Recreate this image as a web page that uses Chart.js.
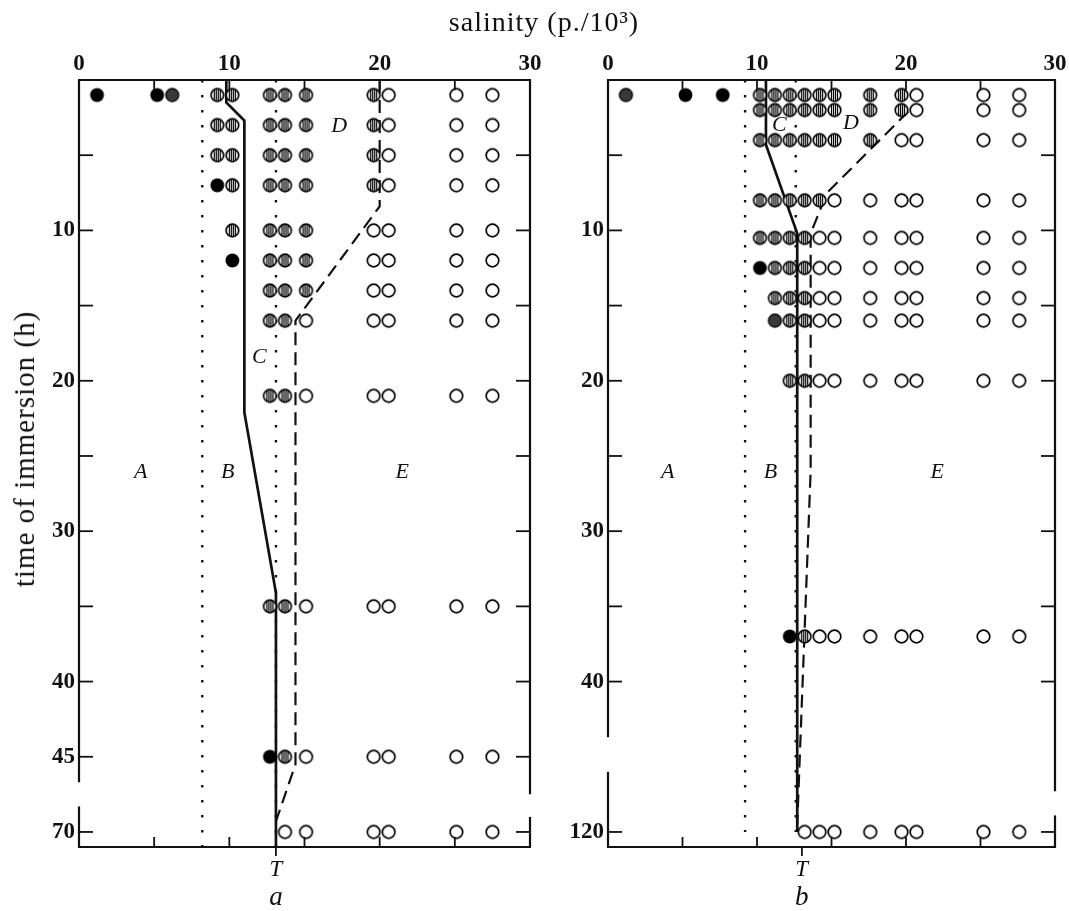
<!DOCTYPE html>
<html><head><meta charset="utf-8">
<script src="https://cdn.jsdelivr.net/npm/chart.js@4.4.1/dist/chart.umd.min.js"></script>
<style>
html,body{margin:0;padding:0;background:#fff;}
#wrap{position:relative;width:1069px;height:911px;overflow:hidden;background:#fff;}
canvas{position:absolute;top:0;}
#cA{left:0;} #cB{left:545px;}
#title{position:absolute;left:394px;width:300px;top:7px;text-align:center;font:28px 'Liberation Serif',serif;letter-spacing:1px;line-height:30px;color:#111;}
#ytitle{position:absolute;left:24px;top:449px;transform:translate(-50%,-50%) rotate(-90deg);white-space:nowrap;font:29px 'Liberation Serif',serif;letter-spacing:1px;line-height:32px;color:#111;}
</style></head><body><div id="wrap">
<canvas id="cA" width="545" height="911"></canvas>
<canvas id="cB" width="524" height="911"></canvas>
<div id="title">salinity (p./10³)</div>
<div id="ytitle">time of immersion (h)</div>
</div>
<script>
// ---------- DATA (panel a) ----------
// salinity columns (p./10^3) at which samples were tested
const salinityA = [1.2, 5.2, 6.2, 9.2, 10.2, 12.7, 13.7, 15.1, 19.6, 20.6, 25.1, 27.5];
// immersion rows, in axis units (axis breaks after 45: position 50 = 70 h)
const rowsA = [1, 3, 5, 7, 10, 12, 14, 16, 21, 35, 45, 50];
// F = black, G = grey, H = hatched, O = open, . = none
const codesA = [
  "FFGHHHHHHOOO",
  "...HHHHHHOOO",
  "...HHHHHHOOO",
  "...FHHHHHOOO",
  "....HHHHOOOO",
  "....FHHHOOOO",
  ".....HHHOOOO",
  ".....HHOOOOO",
  ".....HHOOOOO",
  ".....HHOOOOO",
  ".....FHOOOOO",
  "......OOOOOO"
];
const yTickValuesA = [10, 20, 30, 40, 45, 50];
const yTickLabelsA = ["10", "20", "30", "40", "45", "70"];
const yTickMarksA = [5, 10, 15, 20, 25, 30, 35, 40, 45, 50];
const curveC_A_x = [9.8, 9.8, 11.0, 11.0, 13.1, 13.1];
const curveC_A_y = [0, 1.5, 2.7, 22.1, 34.1, 51];
const curveD_A_x = [20.0, 20.0, 14.4, 14.4, 13.1];
const curveD_A_y = [0, 8.4, 16, 45.5, 49.3];
const dottedA = [8.2, 13.1];
const T_A = 13.1;

// ---------- DATA (panel b) ----------
const salinityB = [1.2, 5.2, 7.7, 10.2, 11.2, 12.2, 13.2, 14.2, 15.2, 17.6, 19.7, 20.7, 25.2, 27.6];
// position 50 = 120 h
const rowsB = [1, 2, 4, 8, 10.5, 12.5, 14.5, 16, 20, 37, 50];
const codesB = [
  "GFFHHHHHHHHOOO",
  "...HHHHHHHHOOO",
  "...HHHHHHHOOOO",
  "...HHHHHOOOOOO",
  "...HHHHOOOOOOO",
  "...FHHHOOOOOOO",
  "....HHHOOOOOOO",
  "....GHHOOOOOOO",
  ".....HHOOOOOOO",
  ".....FHOOOOOOO",
  "......OOOOOOOO"
];
const yTickValuesB = [10, 20, 30, 40, 50];
const yTickLabelsB = ["10", "20", "30", "40", "120"];
const yTickMarksB = [5, 10, 15, 20, 25, 30, 35, 40, 50];
const curveC_B_x = [10.6, 10.6, 12.7, 12.7];
const curveC_B_y = [0, 4.3, 10.2, 50];
const curveD_B_x = [20.15, 14.7, 13.6, 13.6, 12.7];
const curveD_B_y = [2.1, 7.5, 10.2, 26, 49.5];
const dottedB = [9.2, 12.6];
const T_B = 13.0;

const xTickLabels = ["0", "10", "20", "30"];

// ---------- markers ----------
function marker(kind) {
  const s = 17, c = 8.5;
  const cv = document.createElement('canvas'); cv.width = s; cv.height = s;
  const g = cv.getContext('2d');
  if (kind === 'F') {
    g.beginPath(); g.arc(c, c, 6.9, 0, 2 * Math.PI); g.fillStyle = '#000'; g.fill();
  } else if (kind === 'G') {
    g.beginPath(); g.arc(c, c, 6.5, 0, 2 * Math.PI); g.fillStyle = '#383838'; g.fill();
    g.lineWidth = 1.3; g.strokeStyle = '#000'; g.stroke();
  } else {
    g.beginPath(); g.arc(c, c, 6.3, 0, 2 * Math.PI); g.fillStyle = '#fff'; g.fill();
    if (kind === 'H') {
      g.save(); g.clip(); g.strokeStyle = '#000'; g.lineWidth = 1.2;
      [-3, -1, 1, 3].forEach(dx => { g.beginPath(); g.moveTo(c + dx, 0); g.lineTo(c + dx, s); g.stroke(); });
      g.restore();
    }
    g.beginPath(); g.arc(c, c, 6.3, 0, 2 * Math.PI);
    g.lineWidth = 1.7; g.strokeStyle = '#000'; g.stroke();
  }
  return cv;
}
const markerImg = { F: marker('F'), G: marker('G'), H: marker('H'), O: marker('O') };

function markerDatasets(sal, rows, codes) {
  const out = [];
  ['O', 'H', 'G', 'F'].forEach(k => {
    const pts = [];
    codes.forEach((row, i) => {
      for (let j = 0; j < row.length; j++) if (row[j] === k) pts.push({ x: sal[j], y: rows[i] });
    });
    out.push({ data: pts, pointStyle: markerImg[k], pointRadius: 7, showLine: false, order: 1 });
  });
  return out;
}
function lineDs(xs, ys, style) {
  const base = { data: xs.map((x, i) => ({ x: x, y: ys[i] })), showLine: true, pointRadius: 0,
    borderColor: '#111', fill: false, tension: 0, order: 2, borderCapStyle: 'butt', borderJoinStyle: 'miter' };
  if (style === 'solid') { base.borderWidth = 2.7; }
  if (style === 'dash') { base.borderWidth = 2.2; base.borderDash = [13, 7]; }
  if (style === 'dot') { base.borderWidth = 2.4; base.borderDash = [2.4, 12.6]; }
  return base;
}

// ---------- frame / ticks / letters plugin ----------
const framePlugin = {
  id: 'frame',
  afterDatasetsDraw(chart, args, o) {
    const { ctx, scales } = chart;
    ctx.save();
    ctx.fillStyle = '#111'; ctx.textAlign = 'center'; ctx.textBaseline = 'middle';
    ctx.font = 'italic 22px "Liberation Serif", serif';
    o.letters.forEach(l => ctx.fillText(l.t, scales.x.getPixelForValue(l.x), scales.y.getPixelForValue(l.y)));
    ctx.restore();
  },
  afterDraw(chart, args, o) {
    const { ctx, chartArea: a, scales } = chart;
    const xS = scales.x, yS = scales.y;
    ctx.save();
    ctx.strokeStyle = '#111'; ctx.lineWidth = 2.2;
    const seg = (x1, y1, x2, y2) => { ctx.beginPath(); ctx.moveTo(x1, y1); ctx.lineTo(x2, y2); ctx.stroke(); };
    seg(a.left - 1, a.top, a.right + 1, a.top);
    seg(a.left - 1, a.bottom, a.right + 1, a.bottom);
    const lg = o.leftGap.map(v => yS.getPixelForValue(v));
    const rg = o.rightGap.map(v => yS.getPixelForValue(v));
    seg(a.left, a.top, a.left, lg[0]); seg(a.left, lg[1], a.left, a.bottom);
    seg(a.right, a.top, a.right, rg[0]); seg(a.right, rg[1], a.right, a.bottom);
    ctx.lineWidth = 1.8;
    xS.ticks.forEach(t => {
      if (t.value <= xS.min || t.value >= xS.max) return;
      const px = xS.getPixelForValue(t.value);
      seg(px, a.top, px, a.top + 10); seg(px, a.bottom, px, a.bottom - 10);
    });
    o.yMarks.forEach(v => {
      const py = yS.getPixelForValue(v);
      seg(a.left, py, a.left + 14, py); seg(a.right, py, a.right - 14, py);
    });
    ctx.fillStyle = '#111'; ctx.textAlign = 'center'; ctx.textBaseline = 'alphabetic';
    ctx.font = 'italic 27px "Liberation Serif", serif';
    ctx.fillText(o.panel, xS.getPixelForValue(o.T), 905);
    ctx.restore();
  }
};

function makeChart(id, p) {
  const datasets = [
    ...markerDatasets(p.sal, p.rows, p.codes),
    lineDs(p.cx, p.cy, 'solid'),
    lineDs(p.dx, p.dy, 'dash'),
    ...p.dotted.map(v => lineDs([v, v], [0, p.dotEnd], 'dot'))
  ];
  const tickFont = { family: '"Liberation Serif", serif', size: 23, weight: 'bold' };
  return new Chart(document.getElementById(id), {
    type: 'scatter',
    data: { datasets },
    options: {
      responsive: false, animation: false, events: [],
      layout: { padding: 0 },
      plugins: {
        legend: { display: false }, tooltip: { enabled: false },
        frame: { leftGap: p.leftGap, rightGap: p.rightGap, yMarks: p.yMarks, letters: p.letters, panel: p.panel, T: p.T }
      },
      scales: {
        x: {
          type: 'linear', position: 'top', min: 0, max: 30,
          grid: { display: false, drawTicks: false }, border: { display: false },
          ticks: { stepSize: 5, autoSkip: false, maxRotation: 0, padding: 2, color: '#111', font: tickFont,
            callback: v => (v % 10 === 0 ? xTickLabels[v / 10] : '') },
          afterFit: s => { s.height = 80; }
        },
        x2: {
          type: 'linear', position: 'bottom', min: 0, max: 30,
          grid: { display: true, drawOnChartArea: false, drawTicks: true, tickLength: 9, color: '#111', lineWidth: 1.8 },
          border: { display: false },
          afterBuildTicks: s => { s.ticks = [{ value: p.T }]; },
          ticks: { autoSkip: false, maxRotation: 0, padding: 0, color: '#111',
            font: { family: '"Liberation Serif", serif', size: 23, style: 'italic' }, callback: () => 'T' },
          afterFit: s => { s.height = 64; }
        },
        y: {
          type: 'linear', position: 'left', min: 0, max: 51, reverse: true,
          grid: { display: false, drawTicks: false }, border: { display: false },
          afterBuildTicks: s => { s.ticks = p.yVals.map(v => ({ value: v })); },
          ticks: { autoSkip: false, padding: 4, color: '#111', font: tickFont,
            callback: v => { const i = p.yVals.indexOf(v); return i >= 0 ? p.yLabels[i] : ''; } },
          afterFit: s => { s.width = p.leftW; }
        },
        y2: {
          type: 'linear', position: 'right', min: 0, max: 51, reverse: true,
          grid: { display: false, drawTicks: false }, border: { display: false },
          ticks: { display: false },
          afterFit: s => { s.width = p.rightW; }
        }
      }
    },
    plugins: [framePlugin]
  });
}

makeChart('cA', {
  sal: salinityA, rows: rowsA, codes: codesA,
  cx: curveC_A_x, cy: curveC_A_y, dx: curveD_A_x, dy: curveD_A_y,
  dotted: dottedA, dotEnd: 51, T: T_A, panel: 'a',
  yVals: yTickValuesA, yLabels: yTickLabelsA, yMarks: yTickMarksA,
  leftGap: [46.7, 48.3], rightGap: [47.5, 49.0], leftW: 79, rightW: 15,
  letters: [
    { t: 'A', x: 4.1, y: 26.1 }, { t: 'B', x: 9.9, y: 26.1 }, { t: 'C', x: 12.0, y: 18.4 },
    { t: 'D', x: 17.3, y: 3.05 }, { t: 'E', x: 21.5, y: 26.1 }
  ]
});
makeChart('cB', {
  sal: salinityB, rows: rowsB, codes: codesB,
  cx: curveC_B_x, cy: curveC_B_y, dx: curveD_B_x, dy: curveD_B_y,
  dotted: dottedB, dotEnd: 50, T: T_B, panel: 'b',
  yVals: yTickValuesB, yLabels: yTickLabelsB, yMarks: yTickMarksB,
  leftGap: [43.7, 46.0], rightGap: [47.3, 48.9], leftW: 63, rightW: 14,
  letters: [
    { t: 'A', x: 4.0, y: 26.1 }, { t: 'B', x: 10.9, y: 26.1 }, { t: 'C', x: 11.5, y: 3.0 },
    { t: 'D', x: 16.3, y: 2.9 }, { t: 'E', x: 22.1, y: 26.1 }
  ]
});
</script>
</body></html>
